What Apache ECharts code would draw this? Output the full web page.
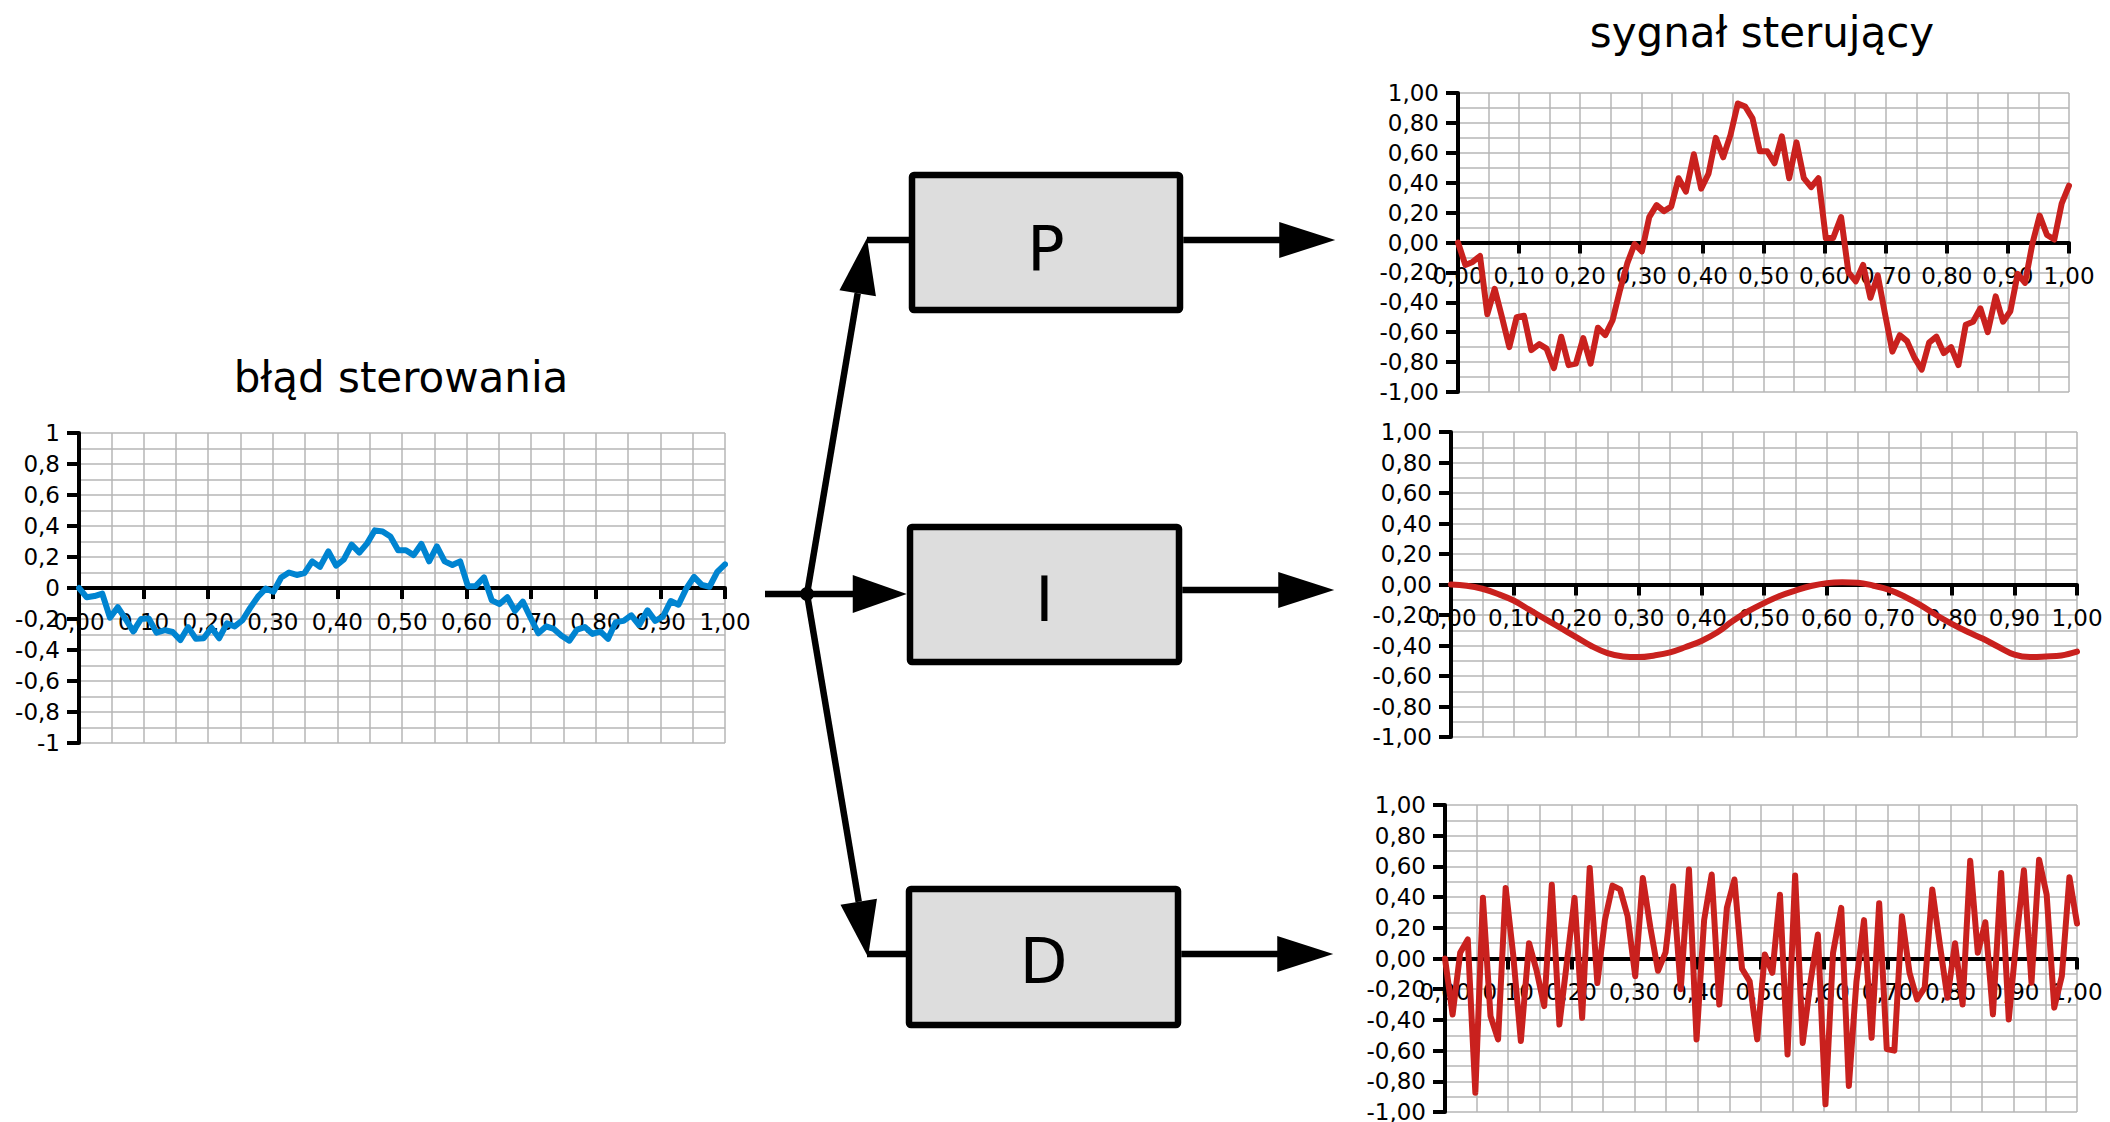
<!DOCTYPE html>
<html><head><meta charset="utf-8">
<script src="https://cdn.jsdelivr.net/npm/echarts@6.0.0/dist/echarts.min.js"></script>
<style>html,body{margin:0;padding:0;background:#fff}#c{width:2110px;height:1122px}</style>
</head><body><div id="c"></div>
<script>
// ---- data ----
const times = [0,0.012,0.024,0.036,0.048,0.060,0.072,0.084,0.096,0.108,
0.120,0.133,0.145,0.157,0.169,0.181,0.193,0.205,0.217,0.229,
0.241,0.253,0.265,0.277,0.289,0.301,0.313,0.325,0.337,0.349,
0.361,0.373,0.386,0.398,0.410,0.422,0.434,0.446,0.458,0.470,
0.482,0.494,0.506,0.518,0.530,0.542,0.554,0.566,0.578,0.590,
0.602,0.614,0.627,0.639,0.651,0.663,0.675,0.687,0.699,0.711,
0.723,0.735,0.747,0.759,0.771,0.783,0.795,0.807,0.819,0.831,
0.843,0.855,0.867,0.880,0.892,0.904,0.916,0.928,0.940,0.952,
0.964,0.976,0.988,1.000];

const errorValues = [0,-0.06,-0.052,-0.036,-0.192,-0.124,-0.20,-0.28,-0.20,-0.196,
-0.288,-0.272,-0.284,-0.336,-0.252,-0.328,-0.324,-0.256,-0.324,-0.228,
-0.248,-0.208,-0.128,-0.056,-0.004,-0.024,0.068,0.10,0.084,0.096,
0.172,0.136,0.236,0.144,0.184,0.28,0.228,0.288,0.372,0.364,
0.332,0.244,0.244,0.212,0.284,0.172,0.268,0.172,0.148,0.172,
0.012,0.012,0.068,-0.08,-0.104,-0.06,-0.148,-0.088,-0.192,-0.292,
-0.248,-0.264,-0.308,-0.34,-0.268,-0.252,-0.296,-0.28,-0.328,-0.22,
-0.212,-0.176,-0.24,-0.144,-0.212,-0.184,-0.084,-0.108,-0.004,0.072,
0.02,0.008,0.104,0.152];

const pValues = [0,-0.15,-0.13,-0.09,-0.48,-0.31,-0.50,-0.70,-0.50,-0.49,
-0.72,-0.68,-0.71,-0.84,-0.63,-0.82,-0.81,-0.64,-0.81,-0.57,
-0.62,-0.52,-0.32,-0.14,-0.01,-0.06,0.17,0.25,0.21,0.24,
0.43,0.34,0.59,0.36,0.46,0.70,0.57,0.72,0.93,0.91,
0.83,0.61,0.61,0.53,0.71,0.43,0.67,0.43,0.37,0.43,
0.03,0.03,0.17,-0.20,-0.26,-0.15,-0.37,-0.22,-0.48,-0.73,
-0.62,-0.66,-0.77,-0.85,-0.67,-0.63,-0.74,-0.70,-0.82,-0.55,
-0.53,-0.44,-0.60,-0.36,-0.53,-0.46,-0.21,-0.27,-0.01,0.18,
0.05,0.02,0.26,0.38];

const iTimes = [0,0.025,0.05,0.075,0.1,0.125,0.15,0.175,0.2,0.225,
0.25,0.275,0.3,0.325,0.35,0.375,0.4,0.425,0.45,0.475,
0.5,0.525,0.55,0.575,0.6,0.625,0.65,0.675,0.7,0.725,
0.75,0.775,0.8,0.825,0.85,0.875,0.9,0.925,0.95,0.975,1.0];
const iValues = [0,-0.008,-0.028,-0.062,-0.105,-0.165,-0.225,-0.285,-0.345,-0.405,
-0.45,-0.472,-0.476,-0.465,-0.445,-0.41,-0.37,-0.315,-0.24,-0.175,
-0.122,-0.075,-0.04,-0.01,0.009,0.015,0.012,-0.008,-0.035,-0.08,
-0.135,-0.2,-0.258,-0.31,-0.356,-0.41,-0.46,-0.476,-0.472,-0.465,-0.44];

const dValues = [0,-0.365,0.037,0.124,-0.874,0.395,-0.375,-0.527,0.46,0.02,
-0.538,0.10,-0.08,-0.31,0.48,-0.43,-0.02,0.395,-0.386,0.59,
-0.16,0.25,0.475,0.45,0.275,-0.115,0.525,0.20,-0.08,0.04,
0.47,-0.2,0.58,-0.527,0.25,0.547,-0.3,0.33,0.515,-0.067,
-0.148,-0.527,0.026,-0.093,0.416,-0.625,0.54,-0.55,-0.16,0.156,
-0.95,0.037,0.33,-0.83,-0.15,0.25,-0.516,0.36,-0.59,-0.6,
0.275,-0.093,-0.267,-0.19,0.45,0.09,-0.256,0.10,-0.3,0.637,
0.037,0.236,-0.364,0.557,-0.397,0.12,0.575,-0.158,0.644,0.416,
-0.32,-0.115,0.53,0.228];

const xTickLabels = ['0,00','0,10','0,20','0,30','0,40','0,50','0,60','0,70','0,80','0,90','1,00'];
const errorYLabels = ['-1','-0,8','-0,6','-0,4','-0,2','0','0,2','0,4','0,6','0,8','1'];
const outputYLabels = ['-1,00','-0,80','-0,60','-0,40','-0,20','0,00','0,20','0,40','0,60','0,80','1,00'];

const titleLeft = 'błąd sterowania';
const titleRight = 'sygnał sterujący';
const blockNames = ['P','I','D'];

// ---- styles ----
const FONT = 'DejaVu Sans';
const GRID_COLOR = '#b6b6b6';
const BLUE = '#0084d1';
const RED = '#c9211e';

const grids = [
  {left:79, top:433, width:646, height:310},
  {left:1458, top:93, width:611, height:299},
  {left:1451, top:432, width:626, height:305},
  {left:1445, top:805, width:632, height:307}
].map(g => Object.assign({outerBoundsMode:'none', containLabel:false}, g));

function labelFrom(arr, min, step) {
  return v => { const k = Math.round((v - min) / step); return arr[k] !== undefined ? arr[k] : ''; };
}

function xAxis(gi) {
  return {
    type:'value', gridIndex:gi, min:0, max:1, interval:0.1,
    axisLine:{show:true, onZero:true, lineStyle:{color:'#000', width:4}},
    axisTick:{show:true, length:11, lineStyle:{color:'#000', width:4}},
    minorTick:{show:false, splitNumber:2},
    splitLine:{show:true, lineStyle:{color:GRID_COLOR, width:1.5}},
    minorSplitLine:{show:true, lineStyle:{color:GRID_COLOR, width:1.5}},
    axisLabel:{show:false}
  };
}
// label-only axis placed on the zero line of the grid
function xLabelAxis(gi) {
  return {
    type:'value', gridIndex:gi, min:0, max:1, interval:0.1, position:'bottom',
    offset: -grids[gi].height/2,
    axisLine:{show:false, onZero:false}, axisTick:{show:false},
    splitLine:{show:false}, minorSplitLine:{show:false},
    axisLabel:{show:true, color:'#000', fontFamily:FONT, fontSize:23, margin:22,
      formatter: labelFrom(xTickLabels, 0, 0.1)},
    z:3
  };
}
function yAxis(gi, labels) {
  return {
    type:'value', gridIndex:gi, min:-1, max:1, interval:0.2,
    axisLine:{show:true, onZero:true, lineStyle:{color:'#000', width:4}},
    axisTick:{show:true, length:12, lineStyle:{color:'#000', width:4}},
    minorTick:{show:false, splitNumber:2},
    splitLine:{show:true, lineStyle:{color:GRID_COLOR, width:1.5}},
    minorSplitLine:{show:true, lineStyle:{color:GRID_COLOR, width:1.5}},
    axisLabel:{show:true, color:'#000', fontFamily:FONT, fontSize:23, margin:19,
      formatter: labelFrom(labels, -1, 0.2)}
  };
}
function lineSeries(gi, xs, ys, color, smooth) {
  return {
    type:'line', xAxisIndex:gi, yAxisIndex:gi, showSymbol:false, symbol:'none',
    smooth: smooth || false, animation:false, z:5,
    lineStyle:{color:color, width:6, join:'round', cap:'round'},
    data: xs.map((t,i) => [t, ys[i]])
  };
}

// ---- diagram graphic ----
const LW = 6.5;
const boxes = [
  {x:912, y:175, w:268, h:135, lineY:240, outY:240, letterY:248},
  {x:910, y:527, w:269, h:135, lineY:594, outY:590, letterY:599},
  {x:909, y:889, w:269, h:136, lineY:954, outY:954, letterY:961}
];
const junction = [807, 594];
const g = [];
function seg(x1,y1,x2,y2){ g.push({type:'line', shape:{x1,y1,x2,y2}, style:{stroke:'#000', lineWidth:LW, lineCap:'butt'}, z:10}); }
function head(tip, from, len, hw){
  const dx = tip[0]-from[0], dy = tip[1]-from[1], L = Math.hypot(dx,dy);
  const ux = dx/L, uy = dy/L, nx = -uy, ny = ux;
  const bx = tip[0]-len*ux, by = tip[1]-len*uy;
  g.push({type:'polygon', shape:{points:[[tip[0],tip[1]],[bx+hw*nx,by+hw*ny],[bx-hw*nx,by-hw*ny]]}, style:{fill:'#000'}, z:11});
  return [bx,by];
}
boxes.forEach((b,i) => {
  g.push({type:'rect', shape:{x:b.x, y:b.y, width:b.w, height:b.h, r:2}, style:{fill:'#dddddd', stroke:'#000', lineWidth:LW, lineJoin:'round'}, z:9});
  g.push({type:'text', z:12, style:{text:blockNames[i], x:b.x + b.w/2, y:b.letterY, fill:'#000', font:'62px "DejaVu Sans"', textAlign:'center', textVerticalAlign:'middle'}});
  const x0 = b.x + b.w + LW/2, tip = [x0 + 152, b.outY];
  const base = head(tip, [x0, b.outY], 56, 18);
  seg(x0, b.outY, base[0]+3, b.outY);
});
seg(765, junction[1], junction[0], junction[1]);
{
  const tip = [boxes[1].x - LW/2, junction[1]];
  const base = head(tip, junction, 54, 19);
  seg(junction[0], junction[1], base[0]+3, junction[1]);
}
{
  const tip = [867, 238];
  const base = head(tip, junction, 56, 18.5);
  seg(junction[0], junction[1], base[0], base[1]);
  seg(867, boxes[0].lineY, boxes[0].x, boxes[0].lineY);
}
{
  const tip = [868, 957];
  const base = head(tip, junction, 56, 18.5);
  seg(junction[0], junction[1], base[0], base[1]);
  seg(867, boxes[2].lineY, boxes[2].x, boxes[2].lineY);
}
g.push({type:'circle', shape:{cx:junction[0], cy:junction[1], r:7}, style:{fill:'#000'}, z:13});
g.push({type:'text', z:12, style:{text:titleLeft, x:401, y:377, fill:'#000', font:'42px "DejaVu Sans"', textAlign:'center', textVerticalAlign:'middle'}});
g.push({type:'text', z:12, style:{text:titleRight, x:1762, y:32, fill:'#000', font:'42px "DejaVu Sans"', textAlign:'center', textVerticalAlign:'middle'}});

const chart = echarts.init(document.getElementById('c'), null, {renderer:'svg', width:2110, height:1122});
chart.setOption({
  backgroundColor:'#fff',
  animation:false,
  grid: grids,
  xAxis: [xAxis(0), xAxis(1), xAxis(2), xAxis(3), xLabelAxis(0), xLabelAxis(1), xLabelAxis(2), xLabelAxis(3)],
  yAxis: [yAxis(0, errorYLabels), yAxis(1, outputYLabels), yAxis(2, outputYLabels), yAxis(3, outputYLabels)],
  series: [
    lineSeries(0, times, errorValues, BLUE),
    lineSeries(1, times, pValues, RED),
    lineSeries(2, iTimes, iValues, RED, 0.4),
    lineSeries(3, times, dValues, RED)
  ],
  graphic: g
});
</script></body></html>
